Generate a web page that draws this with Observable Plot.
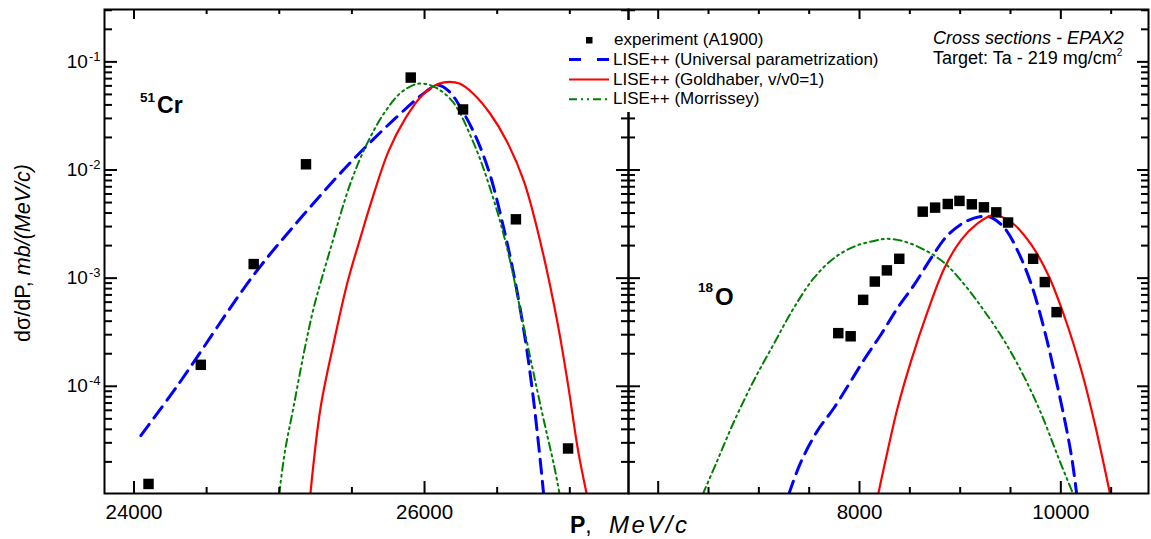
<!DOCTYPE html>
<html>
<head>
<meta charset="utf-8">
<script src="https://cdn.jsdelivr.net/npm/d3@7"></script>
<script src="https://cdn.jsdelivr.net/npm/@observablehq/plot@0.6"></script>
<style>
  html, body { margin: 0; padding: 0; background: #fff; }
  #chart { position: relative; width: 1151px; height: 539px; font-family: "Liberation Sans", Arial, sans-serif; }
  #chart > svg { position: absolute; left: 0; top: 0; }
</style>
</head>
<body>
<div id="chart"></div>
<script>
// ---------- 51Cr momentum distribution ----------
const crExpP  = [24100, 24460, 24824, 25184, 25905, 26265, 26629, 26988];
const crExpV  = [1.25e-5, 1.58e-4, 1.35e-3, 1.13e-2, 7.16e-2, 3.63e-2, 3.5e-3, 2.66e-5];

const crUnivP = [24047, 24303, 24824, 25167, 25494, 25798, 26008, 26090, 26171, 26265, 26358, 26451, 26545, 26615, 26685, 26743, 26790, 26820];
const crUnivV = [3.5e-5, 1.03e-4, 1.07e-3, 3.85e-3, 1.19e-2, 3.0e-2, 5.28e-2, 6.1e-2, 5.3e-2, 3.45e-2, 1.96e-2, 9.0e-3, 2.9e-3, 1.07e-3, 3.2e-4, 9.0e-5, 2.5e-5, 1.0e-5];

const crGoldP = [25214, 25284, 25377, 25471, 25564, 25634, 25751, 25868, 25984, 26101, 26171, 26241, 26334, 26451, 26568, 26685, 26802, 26918, 26988, 27058, 27117];
const crGoldV = [1.0e-5, 6.3e-5, 2.6e-4, 9.3e-4, 2.5e-3, 5.1e-3, 1.48e-2, 3.0e-2, 4.92e-2, 6.3e-2, 6.54e-2, 6.3e-2, 5.1e-2, 3.33e-2, 1.83e-2, 7.8e-3, 2.03e-3, 3.7e-4, 1.03e-4, 2.5e-5, 1.0e-5];

const crMorP  = [24999, 25039, 25097, 25167, 25237, 25354, 25494, 25611, 25728, 25844, 25961, 26066, 26194, 26334, 26451, 26568, 26685, 26802, 26895, 26930];
const crMorV  = [1.0e-5, 2.5e-5, 6.3e-5, 1.96e-4, 5.3e-4, 1.9e-3, 7.8e-3, 1.83e-2, 3.45e-2, 5.28e-2, 6.3e-2, 5.88e-2, 4.28e-2, 1.83e-2, 6.8e-3, 1.9e-3, 3.45e-4, 6.3e-5, 1.76e-5, 1.0e-5];

// ---------- 18O momentum distribution ----------
const oExpP  = [7789, 7912, 8036, 8152, 8272, 8395, 8628, 8751, 8877, 8993, 9116, 9236, 9359, 9476, 9725, 9841, 9958];
const oExpV  = [3.1e-4, 2.9e-4, 6.3e-4, 9.3e-4, 1.18e-3, 1.51e-3, 4.12e-3, 4.49e-3, 4.85e-3, 5.18e-3, 4.82e-3, 4.52e-3, 4.06e-3, 3.27e-3, 1.51e-3, 9.2e-4, 4.85e-4];

const oUnivP = [7297, 7414, 7580, 7746, 7912, 8045, 8212, 8378, 8544, 8711, 8877, 9043, 9193, 9309, 9442, 9575, 9708, 9841, 9941, 10041, 10108, 10158];
const oUnivV = [1.0e-5, 1.96e-5, 3.85e-5, 6.3e-5, 1.11e-4, 1.76e-4, 3.0e-4, 5.3e-4, 8.7e-4, 1.53e-3, 2.5e-3, 3.29e-3, 3.7e-3, 3.63e-3, 2.9e-3, 1.76e-3, 8.7e-4, 3.2e-4, 1.28e-4, 4.75e-5, 2.2e-5, 1.0e-5];

const oGoldP = [8185, 8278, 8378, 8511, 8677, 8844, 9010, 9176, 9309, 9409, 9542, 9708, 9875, 10041, 10207, 10340, 10490];
const oGoldV = [1.0e-5, 2.5e-5, 6.3e-5, 1.7e-4, 4.92e-4, 1.24e-3, 2.26e-3, 3.22e-3, 3.79e-3, 3.7e-3, 3.1e-3, 2.03e-3, 1.07e-3, 4.28e-4, 1.37e-4, 4.4e-5, 1.0e-5];

const oMorP  = [6442, 6582, 6748, 6948, 7147, 7347, 7546, 7746, 7946, 8145, 8278, 8445, 8644, 8844, 9043, 9243, 9442, 9642, 9808, 9975, 10124];
const oMorV  = [1.0e-5, 2.0e-5, 4.6e-5, 1.12e-4, 2.45e-4, 5.3e-4, 1.0e-3, 1.53e-3, 1.96e-3, 2.21e-3, 2.31e-3, 2.18e-3, 1.83e-3, 1.38e-3, 8.7e-4, 4.92e-4, 2.6e-4, 1.19e-4, 5.5e-5, 2.2e-5, 1.0e-5];

// ---------- axes ----------
const yDecades      = [1e-5, 1e-4, 1e-3, 1e-2, 1e-1];
const yMantissas    = [2, 3, 4, 5, 6, 7, 8, 9];
const yMajor        = [1e-4, 1e-3, 1e-2, 1e-1];
const yLabelExp     = ["-4", "-3", "-2", "-1"];
const xMajorCr      = [24000, 26000];
const xMinorCr      = [24500, 25000, 25500, 26500, 27000];
const xLabelCr      = [24000, 26000];
const xMajorO       = [6000, 8000, 10000];
const xMinorO       = [6500, 7000, 7500, 8500, 9000, 9500, 10500];
const xLabelO       = [8000, 10000];

const seriesNames = [
  "experiment (A1900)",
  "LISE++ (Universal parametrization)",
  "LISE++ (Goldhaber, v/v0=1)",
  "LISE++ (Morrissey)"
];

// ---------- styles ----------
const FONT = "Liberation Sans, Arial, sans-serif";
const BLUE = "#0000ff", RED = "#ff0000", GREEN = "#008000";
const univStyle = {stroke: BLUE, strokeWidth: 3, strokeDasharray: "14,8"};
const goldStyle = {stroke: RED, strokeWidth: 2.2};
const morStyle  = {stroke: GREEN, strokeWidth: 2, strokeDasharray: "8,4,2,4,2,4"};

const Y_DOMAIN = [1.02e-5, 0.305];
const H = 539, TOP = 9, BOTTOM = 493;
const innerH = BOTTOM - TOP;

const yMinor = yDecades.flatMap(d => yMantissas.map(m => m * d)).filter(v => v > Y_DOMAIN[0] && v < Y_DOMAIN[1]);
const pairs = (P, V) => P.map((p, i) => ({p, v: V[i]}));
const line = (P, V, style) => Plot.line(pairs(P, V), {x: "p", y: "v", curve: "catmull-rom", clip: true, ...style});

// tick marks drawn inside the frame
function frameTicks(innerW, xMaj, xMin, leftLen, rightLen) {
  const t = {stroke: "black", strokeWidth: 2};
  return [
    Plot.tickX(xMaj, {...t, insetTop: innerH - 12}),
    Plot.tickX(xMin, {...t, insetTop: innerH - 6}),
    Plot.tickX(xMaj, {...t, insetBottom: innerH - 10}),
    Plot.tickX(xMin, {...t, insetBottom: innerH - 5}),
    Plot.tickY(yMajor, {...t, insetRight: innerW - leftLen[0]}),
    Plot.tickY(yMinor, {...t, insetRight: innerW - leftLen[1]}),
    Plot.tickY(yMajor, {...t, insetLeft: innerW - rightLen[0]}),
    Plot.tickY(yMinor, {...t, insetLeft: innerW - rightLen[1]})
  ];
}

const chart = document.getElementById("chart");

// left panel: 51Cr
const crW = 629, crML = 104, crMR = 1;
const crPlot = Plot.plot({
  width: crW, height: H,
  marginLeft: crML, marginRight: crMR, marginTop: TOP, marginBottom: H - BOTTOM,
  style: {fontFamily: FONT, background: "transparent", color: "black", overflow: "visible"},
  x: {domain: [23797, 27404]},
  y: {type: "log", domain: Y_DOMAIN},
  marks: [
    line(crUnivP, crUnivV, univStyle),
    line(crGoldP, crGoldV, goldStyle),
    line(crMorP, crMorV, morStyle),
    Plot.dot(pairs(crExpP, crExpV), {x: "p", y: "v", symbol: "square", r: 5.9, fill: "black", stroke: "none"}),
    ...frameTicks(crW - crML - crMR, xMajorCr, xMinorCr, [13, 8], [12, 7]),
    Plot.frame({stroke: "black", strokeWidth: 2}),
    Plot.axisX(xLabelCr, {anchor: "bottom", tickSize: 0, tickPadding: 11, fontSize: 20.5, label: null, tickFormat: d => String(d)}),
    Plot.axisY(yMajor, {anchor: "left", tickSize: 0, tickPadding: 4, fontSize: 19, label: null,
      tickFormat: d => "10^" + yLabelExp[yMajor.indexOf(d)]})
  ]
});

// right panel: 18O
const oW = 1151, oML = 628, oMR = 3;
const oPlot = Plot.plot({
  width: oW, height: H,
  marginLeft: oML, marginRight: oMR, marginTop: TOP, marginBottom: H - BOTTOM,
  style: {fontFamily: FONT, background: "transparent", color: "black", overflow: "visible"},
  x: {domain: [5705, 10871]},
  y: {type: "log", domain: Y_DOMAIN, axis: null},
  marks: [
    line(oUnivP, oUnivV, univStyle),
    line(oGoldP, oGoldV, goldStyle),
    line(oMorP, oMorV, morStyle),
    Plot.dot(pairs(oExpP, oExpV), {x: "p", y: "v", symbol: "square", r: 5.9, fill: "black", stroke: "none"}),
    ...frameTicks(oW - oML - oMR, xMajorO, xMinorO, [12, 7], [11, 7]),
    Plot.frame({stroke: "black", strokeWidth: 2}),
    Plot.axisX(xLabelO, {anchor: "bottom", tickSize: 0, tickPadding: 11, fontSize: 20.5, label: null, tickFormat: d => String(d)})
  ]
});

chart.append(crPlot, oPlot);

// decade labels: 10 with a raised exponent
const NS = "http://www.w3.org/2000/svg";
crPlot.querySelectorAll('g[aria-label="y-axis tick label"] text').forEach(t => {
  const [base, exp] = t.textContent.split("^");
  t.textContent = "";
  const a = document.createElementNS(NS, "tspan");
  a.textContent = base;
  const b = document.createElementNS(NS, "tspan");
  b.textContent = exp;
  b.setAttribute("font-size", "13");
  b.setAttribute("dy", "-7");
  b.setAttribute("dx", "1");
  t.append(a, b);
});

// annotations, legend and axis titles
const ann = document.createElementNS(NS, "svg");
ann.setAttribute("width", 1151);
ann.setAttribute("height", 539);
ann.style.fontFamily = FONT;

const legendRows = [45, 64.5, 84.5, 104.3];
const legendStyles = [null, univStyle, goldStyle, morStyle];
let legendSVG = `<rect x="562" y="20" width="330" height="92" fill="white"/>`;
seriesNames.forEach((name, i) => {
  const yb = legendRows[i];
  const ym = yb - 5;
  const s = legendStyles[i];
  if (!s) {
    legendSVG += `<rect x="586" y="${ym - 3}" width="6.5" height="6.5" fill="black"/>`;
  } else {
    legendSVG += `<line x1="569" x2="609" y1="${ym}" y2="${ym}" stroke="${s.stroke}" stroke-width="${s.strokeWidth}"` +
      (s.strokeDasharray ? ` stroke-dasharray="${i === 1 ? '12,16' : s.strokeDasharray}"` : "") + `/>`;
  }
  legendSVG += `<text x="${i === 0 ? 614 : 613}" y="${yb}" font-size="17" fill="black">${name}</text>`;
});

ann.innerHTML = legendSVG + `
  <text x="933" y="44" font-size="18" font-style="italic" fill="black">Cross sections - EPAX2</text>
  <text x="933" y="64.3" font-size="18" fill="black">Target: Ta - 219 mg/cm<tspan font-size="10" dy="-8">2</tspan></text>
  <text x="140" y="113" font-weight="bold" fill="black"><tspan font-size="13.5" dy="-11">51</tspan><tspan font-size="23" dy="11" dx="2">Cr</tspan></text>
  <text x="698" y="305" font-weight="bold" fill="black"><tspan font-size="13.5" dy="-13">18</tspan><tspan font-size="24" dy="13" dx="2">O</tspan></text>
  <text x="570" y="533" font-size="23" fill="black"><tspan font-weight="bold">P</tspan>, <tspan font-style="italic" font-size="24" letter-spacing="2.5" x="609">MeV/c</tspan></text>
  <text transform="translate(30,253) rotate(-90)" text-anchor="middle" font-size="21.5" fill="black">dσ/dP, <tspan font-style="italic">mb/(MeV/c)</tspan></text>
`;
chart.append(ann);
</script>
</body>
</html>
